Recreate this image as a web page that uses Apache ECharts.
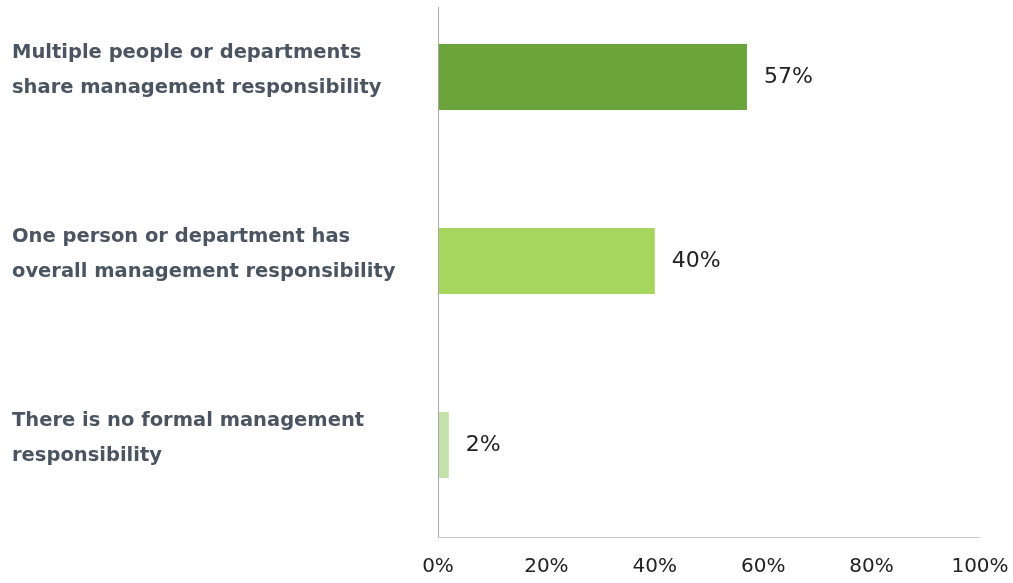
<!DOCTYPE html>
<html>
<head>
<meta charset="utf-8">
<script src="https://cdn.jsdelivr.net/npm/echarts@6/dist/echarts.min.js"></script>
<style>
  html, body { margin: 0; padding: 0; background: #fff; }
  #chart { width: 1013px; height: 583px; }
</style>
</head>
<body>
<div id="chart"></div>
<script>
// categories, top to bottom
const categories = [
  "Multiple people or departments\nshare management responsibility",
  "One person or department has\noverall management responsibility",
  "There is no formal management\nresponsibility"
];
const values = [57, 40, 2];
const barColors = ["#6ba43a", "#a6d65e", "#c6e2ab"];
const xTicks = [0, 20, 40, 60, 80, 100];

const chart = echarts.init(document.getElementById("chart"));

chart.setOption({
  animation: false,
  textStyle: { fontFamily: "DejaVu Sans" },
  grid: {
    left: 438,
    right: 33,
    top: -15,
    bottom: 46,
    outerBoundsMode: "none"
  },
  xAxis: {
    type: "value",
    min: xTicks[0],
    max: xTicks[xTicks.length - 1],
    interval: 20,
    axisLine: { show: true, lineStyle: { color: "#cccccc", width: 1 } },
    axisTick: { show: false },
    splitLine: { show: false },
    axisLabel: {
      margin: 20,
      color: "#222222",
      fontSize: 20,
      formatter: "{value}%"
    }
  },
  yAxis: {
    type: "category",
    inverse: true,
    data: categories,
    axisLine: { show: false },
    axisTick: { show: false },
    axisLabel: {
      margin: 426,
      align: "left",
      // a short spacer line under the text lifts the block a little above the bar centre
      formatter: (v) => v.split("\n").map((s) => "{t|" + s + "}").join("\n") + "\n{s| }",
      rich: {
        t: {
          color: "#4b5562",
          fontFamily: "DejaVu Sans",
          fontSize: 19.5,
          fontWeight: "bold",
          lineHeight: 35
        },
        s: { fontSize: 10, lineHeight: 14 }
      }
    }
  },
  // vertical axis line, starts just below the top edge
  graphic: [{
    type: "line",
    shape: { x1: 438.5, y1: 7, x2: 438.5, y2: 537 },
    style: { stroke: "#aaaaaa", lineWidth: 1 },
    z: 10
  }],
  series: [{
    type: "bar",
    barWidth: 66,
    data: values.map((v, i) => ({ value: v, itemStyle: { color: barColors[i] } })),
    label: {
      show: true,
      position: "right",
      distance: 17,
      color: "#222222",
      fontSize: 22,
      formatter: "{c}%"
    }
  }]
});
</script>
</body>
</html>
